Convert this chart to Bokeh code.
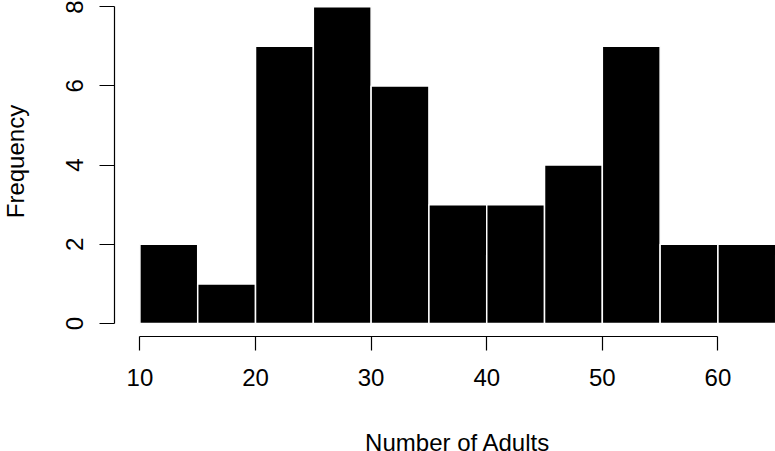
import math
from bokeh.plotting import figure
from bokeh.models import Range1d, FixedTicker, Label, LinearAxis
from bokeh.embed import file_html
from bokeh.resources import INLINE

# Histogram data (bin edges and counts)
bin_left = [10, 15, 20, 25, 30, 35, 40, 45, 50, 55, 60]
bin_right = [15, 20, 25, 30, 35, 40, 45, 50, 55, 60, 65]
counts = [2, 1, 7, 8, 6, 3, 3, 4, 7, 2, 2]
x_ticks = [10, 20, 30, 40, 50, 60]
y_ticks = [0, 2, 4, 6, 8]
x_title = "Number of Adults"
y_title = "Frequency"

FONT = "Liberation Sans"
FS = "24px"

# Frame covers the whole canvas; R-style axes are placed at fixed locations
p = figure(width=775, height=451, output_backend="svg", toolbar_location=None,
           x_range=Range1d(-2.06, 64.98), y_range=Range1d(-3.232, 8.157),
           min_border_left=0, min_border_right=0, min_border_top=0,
           min_border_bottom=0, x_axis_location=None, y_axis_location=None)

p.quad(left=bin_left, right=bin_right, bottom=0, top=counts,
       fill_color="black", line_color="white", line_width=1.5)

p.grid.visible = False
p.outline_line_color = None
p.background_fill_color = "white"
p.border_fill_color = "white"

xa = LinearAxis(fixed_location=-0.33, ticker=FixedTicker(ticks=x_ticks),
                bounds=(x_ticks[0], x_ticks[-1]))
ya = LinearAxis(fixed_location=7.8, ticker=FixedTicker(ticks=y_ticks),
                bounds=(y_ticks[0], y_ticks[-1]))

for ax in (xa, ya):
    ax.axis_line_color = "black"
    ax.axis_line_width = 1.2
    ax.major_tick_line_color = "black"
    ax.major_tick_line_width = 1.2
    ax.minor_tick_line_color = None
    ax.major_tick_in = 0
    ax.major_label_text_font = FONT
    ax.major_label_text_font_size = FS
    ax.major_label_text_color = "black"

xa.major_tick_out = 14
xa.major_label_standoff = 18
ya.major_tick_out = 15
ya.major_label_standoff = 16
ya.major_label_orientation = "vertical"

p.add_layout(xa, "below")
p.add_layout(ya, "left")

# Axis titles centred on the R-style plot region
p.add_layout(Label(x=37.5, y=-3.0, text=x_title, text_align="center",
                   text_baseline="alphabetic", text_font=FONT,
                   text_font_size=FS, text_color="black"))
p.add_layout(Label(x=-0.79, y=4.09, text=y_title, angle=math.pi / 2,
                   text_align="center", text_baseline="alphabetic",
                   text_font=FONT, text_font_size=FS, text_color="black"))

open("out.html", "w").write(file_html(p, INLINE))
